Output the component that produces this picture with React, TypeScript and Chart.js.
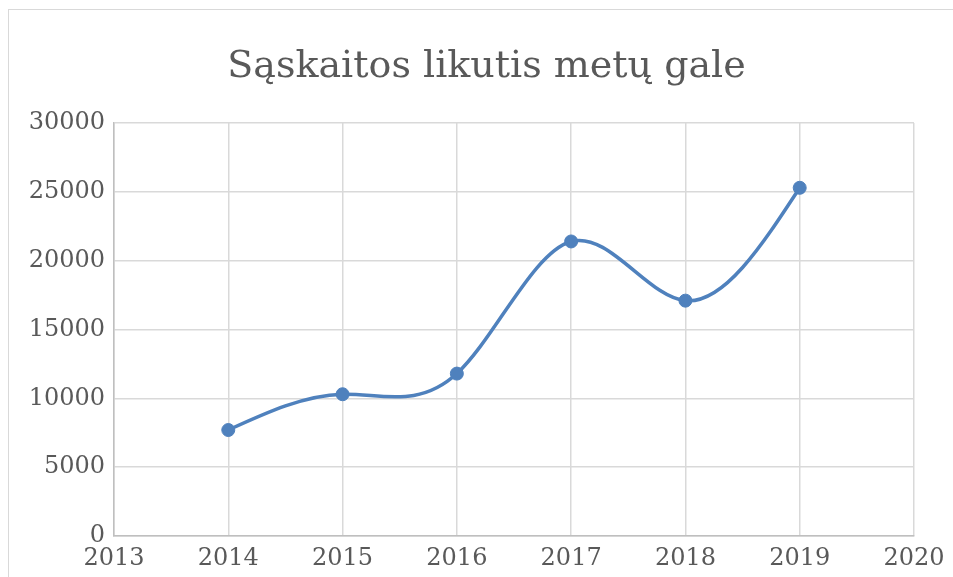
import React, { useEffect, useRef } from "react";
import { Chart, registerables } from "chart.js";

Chart.register(...registerables);

const titleText = "Sąskaitos likutis metų gale";
const years = [2014, 2015, 2016, 2017, 2018, 2019];
const balances = [7700, 10300, 11800, 21400, 17100, 25300];
const xMin = 2013;
const xMax = 2020;
const yMin = 0;
const yMax = 30000;
const yStep = 5000;

const FONT = "'DejaVu Serif', serif";
const LINE_COLOR = "#4f81bd";

// Slopes of a natural cubic spline through (xs, ys), in data units.
function naturalSplineSlopes(xs: number[], ys: number[]): number[] {
  const n = xs.length;
  if (n < 3) {
    const s = n === 2 ? (ys[1] - ys[0]) / (xs[1] - xs[0]) : 0;
    return xs.map(() => s);
  }
  const h: number[] = [];
  for (let i = 0; i < n - 1; i++) h.push(xs[i + 1] - xs[i]);
  const a: number[] = new Array(n).fill(0);
  const b: number[] = new Array(n).fill(1);
  const c: number[] = new Array(n).fill(0);
  const d: number[] = new Array(n).fill(0);
  for (let i = 1; i < n - 1; i++) {
    a[i] = h[i - 1];
    b[i] = 2 * (h[i - 1] + h[i]);
    c[i] = h[i];
    d[i] = 6 * ((ys[i + 1] - ys[i]) / h[i] - (ys[i] - ys[i - 1]) / h[i - 1]);
  }
  for (let i = 1; i < n; i++) {
    const m = a[i] / b[i - 1];
    b[i] -= m * c[i - 1];
    d[i] -= m * d[i - 1];
  }
  const M: number[] = new Array(n).fill(0);
  M[n - 1] = d[n - 1] / b[n - 1];
  for (let i = n - 2; i >= 0; i--) M[i] = (d[i] - c[i] * M[i + 1]) / b[i];
  const slopes: number[] = [];
  for (let i = 0; i < n; i++) {
    if (i < n - 1) {
      slopes.push((ys[i + 1] - ys[i]) / h[i] - (h[i] * (2 * M[i] + M[i + 1])) / 6);
    } else {
      slopes.push((ys[i] - ys[i - 1]) / h[i - 1] + (h[i - 1] * (M[i - 1] + 2 * M[i])) / 6);
    }
  }
  return slopes;
}

const splinePlugin = {
  id: "naturalSpline",
  beforeDatasetDraw(chart: any, args: any) {
    const meta = chart.getDatasetMeta(args.index);
    const line = meta.dataset;
    const pts = meta.data;
    if (!line || !pts || pts.length < 2) return;
    if (typeof line.updateControlPoints === "function") {
      line.updateControlPoints(chart.chartArea, "x");
    }
    const xs = years;
    const ys = balances;
    const slopes = naturalSplineSlopes(xs, ys);
    const xScale = chart.scales.x;
    const yScale = chart.scales.y;
    for (let i = 0; i < pts.length; i++) {
      const hPrev = i > 0 ? (xs[i] - xs[i - 1]) / 3 : 0;
      const hNext = i < xs.length - 1 ? (xs[i + 1] - xs[i]) / 3 : 0;
      const p = pts[i];
      p.cp1x = xScale.getPixelForValue(xs[i] - hPrev);
      p.cp1y = yScale.getPixelForValue(ys[i] - slopes[i] * hPrev);
      p.cp2x = xScale.getPixelForValue(xs[i] + hNext);
      p.cp2y = yScale.getPixelForValue(ys[i] + slopes[i] * hNext);
    }
    line._pointsUpdated = true;
    line._path = undefined;
  },
};

export default function App() {
  const ref = useRef<HTMLCanvasElement | null>(null);

  useEffect(() => {
    if (!ref.current) return;
    const chart = new Chart(ref.current, {
      type: "line",
      data: {
        datasets: [
          {
            data: years.map((y, i) => ({ x: y, y: balances[i] })),
            borderColor: LINE_COLOR,
            backgroundColor: LINE_COLOR,
            borderWidth: 3.5,
            pointRadius: 6.5,
            pointHoverRadius: 6.5,
            pointBorderWidth: 1,
            pointBackgroundColor: LINE_COLOR,
            pointBorderColor: LINE_COLOR,
            tension: 0.4,
            fill: false,
          },
        ],
      },
      options: {
        animation: false,
        responsive: false,
        maintainAspectRatio: false,
        layout: { padding: { left: 20, right: 0, top: 0, bottom: 0 } },
        plugins: {
          legend: { display: false },
          tooltip: { enabled: false },
          title: {
            display: true,
            text: titleText,
            color: "#595959",
            font: { family: FONT, size: 38, weight: "normal", lineHeight: 1.2 },
            padding: { top: 44, bottom: 33.5 },
          },
        },
        scales: {
          x: {
            type: "linear",
            min: xMin,
            max: xMax,
            afterFit: (s: any) => {
              s.height = 41;
            },
            ticks: {
              stepSize: 1,
              color: "#595959",
              font: { family: FONT, size: 24 },
              padding: 8,
              maxRotation: 0,
              callback: (v: any) => String(v),
            },
            grid: { color: "#d9d9d9", lineWidth: 1.5, drawTicks: false },
            border: { color: "#bfbfbf", width: 1.5 },
          },
          y: {
            min: yMin,
            max: yMax,
            afterFit: (s: any) => {
              s.width = 94;
            },
            ticks: {
              stepSize: yStep,
              color: "#595959",
              font: { family: FONT, size: 24 },
              padding: 9,
              callback: (v: any) => String(v),
            },
            grid: { color: "#d9d9d9", lineWidth: 1.5, drawTicks: false },
            border: { color: "#bfbfbf", width: 1.5 },
          },
          yRight: {
            position: "right",
            display: true,
            min: 0,
            max: 1,
            afterFit: (s: any) => {
              s.width = 39;
            },
            ticks: { display: false },
            grid: { display: false, drawTicks: false },
            border: { display: false },
          },
        },
      },
      plugins: [splinePlugin],
    });
    return () => chart.destroy();
  }, []);

  return (
    <div style={{ position: "fixed", left: 0, top: 0, width: 953, height: 577, overflow: "hidden", background: "#fff" }}>
      <div
        style={{
          position: "absolute",
          left: 8,
          top: 9,
          width: 1000,
          height: 1000,
          border: "1.5px solid #d9d9d9",
          boxSizing: "border-box",
        }}
      />
      <canvas ref={ref} width={953} height={577} style={{ position: "absolute", left: 0, top: 0 }} />
    </div>
  );
}
